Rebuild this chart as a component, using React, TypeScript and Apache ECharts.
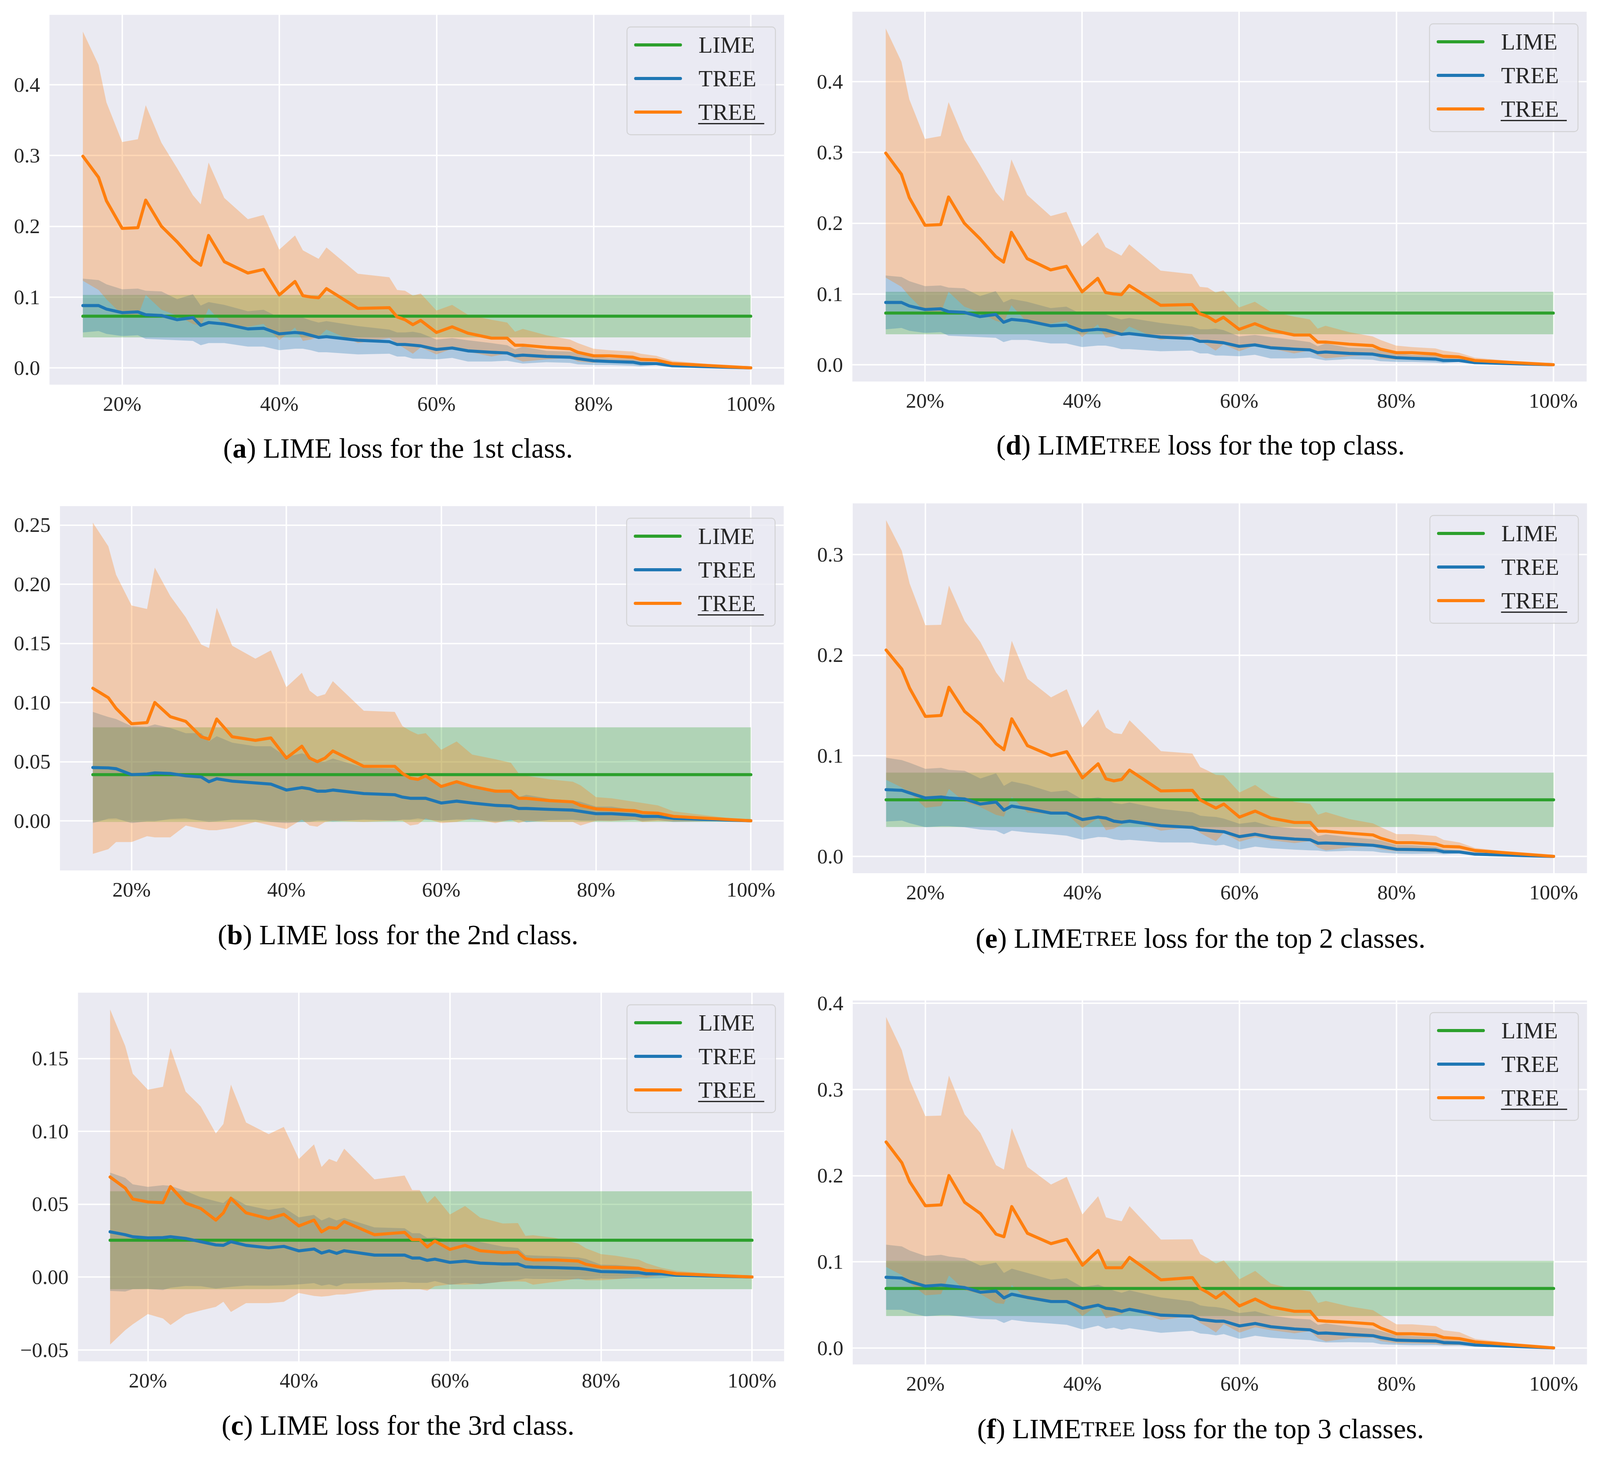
import React, { useEffect, useRef } from "react";
import * as echarts from "echarts";

const W = 4430;
const H = 3731;

// ---------- data ----------
const xPct = [15, 17, 18, 20, 22, 23, 25, 27, 29, 30, 31, 33, 36, 38, 40, 42, 43, 44, 45, 46, 50, 54, 55, 56, 57, 58, 60, 62, 64, 67, 69, 70, 71, 74, 77, 78, 80, 82, 85, 86, 88, 90, 100];
const xTicks = [20, 40, 60, 80, 100];

// (a) 1st class  /  (d) top class
const class1OrangeMean = [0.299, 0.269, 0.236, 0.197, 0.198, 0.237, 0.200, 0.178, 0.153, 0.145, 0.187, 0.150, 0.134, 0.139, 0.103, 0.122, 0.102, 0.100, 0.099, 0.112, 0.084, 0.085, 0.072, 0.068, 0.061, 0.067, 0.050, 0.058, 0.049, 0.042, 0.042, 0.032, 0.032, 0.029, 0.027, 0.022, 0.017, 0.017, 0.015, 0.012, 0.011, 0.006, 0.0];
const class1OrangeStd = [0.176, 0.159, 0.139, 0.122, 0.125, 0.134, 0.118, 0.104, 0.091, 0.086, 0.103, 0.090, 0.076, 0.077, 0.064, 0.065, 0.064, 0.060, 0.055, 0.058, 0.049, 0.043, 0.038, 0.041, 0.041, 0.038, 0.031, 0.031, 0.026, 0.026, 0.022, 0.019, 0.023, 0.017, 0.013, 0.013, 0.010, 0.008, 0.008, 0.008, 0.006, 0.004, 0.0];
const class1BlueMean = [0.088, 0.088, 0.083, 0.078, 0.079, 0.075, 0.074, 0.068, 0.071, 0.060, 0.064, 0.062, 0.055, 0.056, 0.048, 0.050, 0.049, 0.046, 0.043, 0.044, 0.039, 0.037, 0.033, 0.033, 0.032, 0.031, 0.026, 0.028, 0.024, 0.022, 0.021, 0.017, 0.018, 0.016, 0.015, 0.013, 0.010, 0.009, 0.008, 0.006, 0.006, 0.003, 0.0];
const class1BlueStd = [0.038, 0.036, 0.035, 0.033, 0.033, 0.034, 0.034, 0.029, 0.033, 0.028, 0.029, 0.027, 0.025, 0.026, 0.023, 0.023, 0.022, 0.021, 0.021, 0.022, 0.020, 0.017, 0.017, 0.017, 0.019, 0.018, 0.014, 0.014, 0.015, 0.013, 0.011, 0.009, 0.012, 0.008, 0.008, 0.008, 0.006, 0.005, 0.005, 0.004, 0.002, 0.001, 0.0];
const class1Lime = [0.073, 0.030]; // mean, std

// (b) 2nd class
const class2OrangeMean = [0.112, 0.104, 0.095, 0.082, 0.083, 0.100, 0.088, 0.084, 0.071, 0.069, 0.086, 0.071, 0.068, 0.070, 0.053, 0.063, 0.053, 0.050, 0.053, 0.059, 0.046, 0.046, 0.040, 0.036, 0.035, 0.038, 0.029, 0.033, 0.029, 0.025, 0.025, 0.019, 0.019, 0.017, 0.016, 0.013, 0.010, 0.0094, 0.0085, 0.007, 0.0064, 0.0037, 0.0];
const class2OrangeStd = [0.140, 0.128, 0.113, 0.100, 0.096, 0.114, 0.102, 0.088, 0.078, 0.077, 0.094, 0.077, 0.069, 0.074, 0.060, 0.062, 0.057, 0.055, 0.054, 0.059, 0.047, 0.046, 0.040, 0.040, 0.038, 0.036, 0.031, 0.034, 0.027, 0.027, 0.024, 0.021, 0.019, 0.018, 0.017, 0.017, 0.010, 0.0096, 0.0075, 0.008, 0.0066, 0.0043, 0.0];
const class2BlueMean = [0.045, 0.0447, 0.044, 0.039, 0.0395, 0.0405, 0.040, 0.038, 0.037, 0.033, 0.0355, 0.0335, 0.032, 0.031, 0.026, 0.028, 0.027, 0.025, 0.025, 0.026, 0.023, 0.022, 0.020, 0.019, 0.019, 0.019, 0.015, 0.0166, 0.015, 0.013, 0.0125, 0.0104, 0.0104, 0.0096, 0.009, 0.008, 0.006, 0.006, 0.0048, 0.0037, 0.0037, 0.002, 0.0];
const class2BlueStd = [0.047, 0.043, 0.042, 0.041, 0.040, 0.041, 0.0385, 0.036, 0.037, 0.034, 0.036, 0.0325, 0.031, 0.032, 0.028, 0.029, 0.028, 0.025, 0.025, 0.0266, 0.022, 0.022, 0.019, 0.018, 0.017, 0.018, 0.015, 0.0154, 0.014, 0.0136, 0.0125, 0.0096, 0.0116, 0.009, 0.008, 0.008, 0.006, 0.006, 0.0042, 0.004, 0.003, 0.003, 0.0];
const class2Lime = [0.039, 0.040];

// (c) 3rd class
const class3OrangeMean = [0.0686, 0.061, 0.0535, 0.0515, 0.051, 0.062, 0.0507, 0.047, 0.039, 0.044, 0.054, 0.044, 0.040, 0.043, 0.035, 0.039, 0.031, 0.034, 0.0334, 0.038, 0.029, 0.0306, 0.0256, 0.0256, 0.0206, 0.0246, 0.0189, 0.0217, 0.018, 0.0167, 0.017, 0.0125, 0.0117, 0.0117, 0.0109, 0.0087, 0.0067, 0.0065, 0.0059, 0.0045, 0.0038, 0.0022, 0.0];
const class3OrangeStd = [0.115, 0.0975, 0.086, 0.077, 0.0795, 0.095, 0.0765, 0.070, 0.0595, 0.061, 0.078, 0.062, 0.058, 0.060, 0.046, 0.052, 0.0445, 0.047, 0.0455, 0.050, 0.038, 0.039, 0.034, 0.034, 0.030, 0.031, 0.024, 0.027, 0.0227, 0.020, 0.020, 0.0157, 0.017, 0.015, 0.012, 0.011, 0.009, 0.008, 0.006, 0.005, 0.0025, 0.002, 0.0];
const class3BlueMean = [0.031, 0.029, 0.0276, 0.0268, 0.027, 0.0276, 0.0264, 0.0242, 0.022, 0.0217, 0.0242, 0.0217, 0.020, 0.021, 0.0179, 0.0192, 0.0164, 0.0179, 0.0162, 0.018, 0.015, 0.015, 0.013, 0.013, 0.0114, 0.0122, 0.010, 0.0109, 0.0095, 0.0089, 0.0089, 0.007, 0.0067, 0.0064, 0.0059, 0.0054, 0.0037, 0.0035, 0.003, 0.0022, 0.0022, 0.0012, 0.0];
const class3BlueStd = [0.0406, 0.039, 0.036, 0.035, 0.036, 0.035, 0.0326, 0.0305, 0.030, 0.029, 0.031, 0.0276, 0.026, 0.0267, 0.023, 0.0234, 0.0224, 0.023, 0.0226, 0.0225, 0.019, 0.0184, 0.017, 0.017, 0.0154, 0.015, 0.0154, 0.015, 0.0145, 0.012, 0.011, 0.008, 0.008, 0.0078, 0.0075, 0.007, 0.0047, 0.0047, 0.004, 0.0032, 0.003, 0.0013, 0.0];
const class3Lime = [0.0252, 0.0336];

// (d) top class (same curves as the 1st class)
const top1OrangeMean = class1OrangeMean;
const top1OrangeStd = class1OrangeStd;
const top1BlueMean = class1BlueMean;
const top1BlueStd = class1BlueStd;
const top1Lime = class1Lime;

// (e) top 2 classes
const top2OrangeMean = [0.205, 0.186, 0.167, 0.139, 0.140, 0.168, 0.144, 0.131, 0.112, 0.106, 0.1366, 0.110, 0.100, 0.104, 0.078, 0.092, 0.077, 0.075, 0.0765, 0.0857, 0.065, 0.0656, 0.056, 0.052, 0.048, 0.052, 0.039, 0.045, 0.038, 0.0337, 0.0337, 0.025, 0.025, 0.023, 0.0213, 0.018, 0.0136, 0.0136, 0.0123, 0.0099, 0.0094, 0.0058, 0.0];
const top2OrangeStd = [0.129, 0.1175, 0.104, 0.0907, 0.090, 0.101, 0.0898, 0.082, 0.0708, 0.0665, 0.0775, 0.0665, 0.058, 0.062, 0.050, 0.054, 0.051, 0.0475, 0.045, 0.0495, 0.0395, 0.0365, 0.0327, 0.033, 0.033, 0.0285, 0.0245, 0.026, 0.022, 0.0205, 0.0185, 0.0164, 0.019, 0.014, 0.0115, 0.011, 0.0085, 0.0085, 0.008, 0.0065, 0.0045, 0.0025, 0.0];
const top2BlueMean = [0.0663, 0.0656, 0.063, 0.058, 0.059, 0.058, 0.057, 0.052, 0.054, 0.046, 0.050, 0.0475, 0.043, 0.043, 0.0366, 0.039, 0.038, 0.035, 0.034, 0.035, 0.0305, 0.0288, 0.0264, 0.0257, 0.025, 0.0245, 0.0196, 0.022, 0.019, 0.0172, 0.0165, 0.013, 0.0133, 0.0123, 0.011, 0.0099, 0.007, 0.0068, 0.0063, 0.0046, 0.0044, 0.0022, 0.0];
const top2BlueStd = [0.0317, 0.030, 0.030, 0.029, 0.029, 0.028, 0.028, 0.0254, 0.0285, 0.024, 0.0245, 0.0238, 0.021, 0.0225, 0.020, 0.0197, 0.019, 0.018, 0.018, 0.0185, 0.0166, 0.015, 0.014, 0.014, 0.0142, 0.013, 0.0128, 0.0123, 0.011, 0.0105, 0.0105, 0.0072, 0.0085, 0.0068, 0.006, 0.006, 0.0043, 0.0043, 0.0034, 0.0025, 0.0015, 0.001, 0.0];
const top2Lime = [0.0562, 0.027];

// (f) top 3 classes
const top3OrangeMean = [0.239, 0.215, 0.193, 0.165, 0.166, 0.200, 0.169, 0.156, 0.132, 0.129, 0.164, 0.133, 0.121, 0.126, 0.096, 0.113, 0.093, 0.093, 0.093, 0.105, 0.079, 0.0816, 0.069, 0.064, 0.058, 0.0646, 0.0487, 0.0567, 0.0476, 0.0425, 0.0425, 0.0317, 0.031, 0.0297, 0.0278, 0.023, 0.0164, 0.0164, 0.015, 0.012, 0.0108, 0.007, 0.0];
const top3OrangeStd = [0.145, 0.1305, 0.1177, 0.104, 0.1036, 0.116, 0.102, 0.0935, 0.080, 0.078, 0.091, 0.077, 0.0686, 0.0725, 0.059, 0.063, 0.0585, 0.056, 0.054, 0.0595, 0.0467, 0.0445, 0.040, 0.040, 0.040, 0.037, 0.031, 0.0327, 0.027, 0.0255, 0.023, 0.0205, 0.0235, 0.0184, 0.016, 0.015, 0.011, 0.011, 0.0103, 0.0085, 0.0075, 0.0035, 0.0];
const top3BlueMean = [0.082, 0.081, 0.077, 0.0717, 0.073, 0.072, 0.070, 0.0646, 0.066, 0.058, 0.0623, 0.0586, 0.0538, 0.0538, 0.046, 0.0496, 0.046, 0.045, 0.0425, 0.0448, 0.038, 0.0368, 0.033, 0.032, 0.031, 0.031, 0.0255, 0.0283, 0.0246, 0.022, 0.021, 0.017, 0.0173, 0.0156, 0.0142, 0.012, 0.009, 0.0085, 0.008, 0.0062, 0.0057, 0.0034, 0.0];
const top3BlueStd = [0.0378, 0.0368, 0.036, 0.035, 0.035, 0.034, 0.034, 0.031, 0.033, 0.029, 0.0297, 0.0284, 0.0255, 0.027, 0.0245, 0.0238, 0.024, 0.0215, 0.0215, 0.022, 0.0205, 0.017, 0.0163, 0.016, 0.0164, 0.015, 0.015, 0.0142, 0.0128, 0.012, 0.012, 0.0097, 0.011, 0.009, 0.008, 0.0078, 0.0054, 0.0054, 0.0048, 0.0037, 0.003, 0.002, 0.0];
const top3Lime = [0.069, 0.032];

// tick labels
const yTicksA = [0, 0.1, 0.2, 0.3, 0.4];
const yTicksB = [0, 0.05, 0.1, 0.15, 0.2, 0.25];
const yTicksC = [-0.05, 0, 0.05, 0.1, 0.15];
const yTicksE = [0, 0.1, 0.2, 0.3];
const legendLabels = ["LIME", "TREE", "TREE"];

// ---------- styling / layout ----------
const GREEN = "#2ca02c";
const BLUE = "#1f77b4";
const ORANGE = "#ff7f0e";
const BG = "#EAEAF2";
const INK = "#262626";
const FONT = "'Liberation Serif', 'Times New Roman', serif";

type PanelData = {
  oMean: number[]; oStd: number[]; bMean: number[]; bStd: number[]; lime: number[];
  yTicks: number[]; digits: number; letter: string; captionTail: string; limeTree: boolean;
};

const panels: PanelData[] = [
  { oMean: class1OrangeMean, oStd: class1OrangeStd, bMean: class1BlueMean, bStd: class1BlueStd, lime: class1Lime, yTicks: yTicksA, digits: 1, letter: "a", captionTail: " loss for the 1st class.", limeTree: false },
  { oMean: class2OrangeMean, oStd: class2OrangeStd, bMean: class2BlueMean, bStd: class2BlueStd, lime: class2Lime, yTicks: yTicksB, digits: 2, letter: "b", captionTail: " loss for the 2nd class.", limeTree: false },
  { oMean: class3OrangeMean, oStd: class3OrangeStd, bMean: class3BlueMean, bStd: class3BlueStd, lime: class3Lime, yTicks: yTicksC, digits: 2, letter: "c", captionTail: " loss for the 3rd class.", limeTree: false },
  { oMean: top1OrangeMean, oStd: top1OrangeStd, bMean: top1BlueMean, bStd: top1BlueStd, lime: top1Lime, yTicks: yTicksA, digits: 1, letter: "d", captionTail: " loss for the top class.", limeTree: true },
  { oMean: top2OrangeMean, oStd: top2OrangeStd, bMean: top2BlueMean, bStd: top2BlueStd, lime: top2Lime, yTicks: yTicksE, digits: 1, letter: "e", captionTail: " loss for the top 2 classes.", limeTree: true },
  { oMean: top3OrangeMean, oStd: top3OrangeStd, bMean: top3BlueMean, bStd: top3BlueStd, lime: top3Lime, yTicks: yTicksA, digits: 1, letter: "f", captionTail: " loss for the top 3 classes.", limeTree: true },
];

// layout in reference pixels (4430 x 3731); scaled to the real container size
const layouts = [
  { left: 137, top: 38, width: 2034, height: 947, capX: 1102, capY: 1148 },
  { left: 166, top: 1296, width: 2004, height: 933, capX: 1102, capY: 2394 },
  { left: 216, top: 2542, width: 1955, height: 944, capX: 1102, capY: 3650 },
  { left: 2360, top: 30, width: 2033, height: 947, capX: 3324, capY: 1140 },
  { left: 2361, top: 1289, width: 2033, height: 947, capX: 3324, capY: 2403 },
  { left: 2361, top: 2562, width: 2033, height: 932, capX: 3324, capY: 3659 },
];

function fmtY(v: number, digits: number) {
  const s = Math.abs(v).toFixed(digits);
  return v < -1e-9 ? "\u2212" + s : s;
}

function bandSeries(k: number, xs: number[], lo: number[], hi: number[], color: string) {
  return {
    type: "custom",
    xAxisIndex: k,
    yAxisIndex: k,
    silent: true,
    z: 2,
    clip: true,
    data: xs.map((x, i) => [x, lo[i], hi[i]]),
    encode: { x: 0, y: [1, 2] },
    renderItem: (params: any, api: any) => {
      if (params.dataIndex !== 0) return null;
      const upper = xs.map((x, i) => api.coord([x, hi[i]]));
      const lower = xs.map((x, i) => api.coord([x, lo[i]])).reverse();
      return {
        type: "polygon",
        shape: { points: upper.concat(lower) },
        style: { fill: color, opacity: 0.3 },
      };
    },
  };
}

function buildOption(sx: number, sy: number) {
  const s = Math.min(sx, sy);
  const grid: any[] = [];
  const xAxis: any[] = [];
  const yAxis: any[] = [];
  const series: any[] = [];
  const graphic: any[] = [];

  const xMinData = Math.min(...xPct);
  const xMaxData = Math.max(...xPct);
  const xPad = (xMaxData - xMinData) * 0.05;
  const lineW = 8.5 * s;

  panels.forEach((p, k) => {
    const L = layouts[k];
    const limeMean = p.lime[0];
    const limeStd = p.lime[1];
    const oLo = p.oMean.map((m, i) => m - p.oStd[i]);
    const oHi = p.oMean.map((m, i) => m + p.oStd[i]);
    const bLo = p.bMean.map((m, i) => m - p.bStd[i]);
    const bHi = p.bMean.map((m, i) => m + p.bStd[i]);
    const yLo = Math.min(...oLo, ...bLo, limeMean - limeStd);
    const yHi = Math.max(...oHi, ...bHi, limeMean + limeStd);
    const yPad = (yHi - yLo) * 0.05;

    grid.push({
      left: L.left * sx, top: L.top * sy, width: L.width * sx, height: L.height * sy,
      show: true, backgroundColor: BG, borderWidth: 0, containLabel: false, outerBoundsMode: "none",
    });
    xAxis.push({
      type: "value", gridIndex: k, min: xMinData - xPad, max: xMaxData + xPad,
      axisLine: { show: false },
      axisTick: { show: false, customValues: xTicks },
      axisLabel: {
        customValues: xTicks, formatter: (v: number) => `${Math.round(v)}%`,
        fontSize: 58 * s, fontFamily: FONT, color: INK, margin: 22 * sy,
      },
      splitLine: { show: true, lineStyle: { color: "#ffffff", width: 4 * s } },
    });
    yAxis.push({
      type: "value", gridIndex: k, min: yLo - yPad, max: yHi + yPad,
      axisLine: { show: false },
      axisTick: { show: false, customValues: p.yTicks },
      axisLabel: {
        customValues: p.yTicks, formatter: (v: number) => fmtY(v, p.digits),
        fontSize: 58 * s, fontFamily: FONT, color: INK, margin: 26 * sx,
      },
      splitLine: { show: true, lineStyle: { color: "#ffffff", width: 4 * s } },
    });

    const limeX = [xMinData, xMaxData];
    const lineBase = { type: "line", xAxisIndex: k, yAxisIndex: k, symbol: "none", silent: true, z: 3, emphasis: { disabled: true } };
    series.push(
      bandSeries(k, limeX, limeX.map(() => limeMean - limeStd), limeX.map(() => limeMean + limeStd), GREEN),
      bandSeries(k, xPct, bLo, bHi, BLUE),
      bandSeries(k, xPct, oLo, oHi, ORANGE),
      { ...lineBase, name: "LIME", data: limeX.map((x) => [x, limeMean]), lineStyle: { color: GREEN, width: lineW, cap: "round", join: "round" } },
      { ...lineBase, name: "TREE", data: xPct.map((x, i) => [x, p.bMean[i]]), lineStyle: { color: BLUE, width: lineW, cap: "round", join: "round" } },
      { ...lineBase, name: "TREE (underlined)", data: xPct.map((x, i) => [x, p.oMean[i]]), lineStyle: { color: ORANGE, width: lineW, cap: "round", join: "round" } },
    );

    // legend (drawn as graphic so the third entry can be underlined)
    const boxW = 411, boxH = 276;
    const bx = L.left + L.width - 24 - boxW;
    const by = L.top + 31;
    graphic.push({
      type: "rect", z: 100, silent: true,
      shape: { x: bx * sx, y: by * sy, width: boxW * sx, height: boxH * sy, r: 10 * s },
      style: { fill: "rgba(234,234,242,0.8)", stroke: "rgba(204,204,204,0.8)", lineWidth: 2.5 * s },
    });
    [GREEN, BLUE, ORANGE].forEach((c, i) => {
      const cy = by + 46 + 86 * i;
      graphic.push({
        type: "line", z: 101, silent: true,
        shape: { x1: (bx + 24) * sx, y1: cy * sy, x2: (bx + 148) * sx, y2: cy * sy },
        style: { stroke: c, lineWidth: lineW, lineCap: "round" },
      });
      graphic.push({
        type: "text", z: 101, silent: true, x: (bx + 198) * sx, y: cy * sy,
        style: { text: legendLabels[i], fontSize: 64 * s, fontFamily: FONT, fill: INK, align: "left", verticalAlign: "middle" },
      });
    });
    graphic.push({
      type: "rect", z: 101, silent: true,
      shape: { x: (bx + 197) * sx, y: (by + 246) * sy, width: 183 * sx, height: 3.5 * s },
      style: { fill: INK },
    });

    // caption
    const mid = p.limeTree ? "LIME{sc|TREE}" : "LIME";
    graphic.push({
      type: "text", z: 101, silent: true, x: L.capX * sx, y: L.capY * sy,
      style: {
        text: `({b|${p.letter}}) ${mid}${p.captionTail}`,
        fontSize: 78 * s, fontFamily: FONT, fill: "#000000", align: "center", verticalAlign: "middle",
        rich: {
          b: { fontSize: 78 * s, fontFamily: FONT, fontWeight: "bold", fill: "#000000" },
          sc: { fontSize: 60 * s, fontFamily: FONT, fill: "#000000" },
        },
      },
    });
  });

  return {
    animation: false,
    backgroundColor: "#ffffff",
    textStyle: { fontFamily: FONT },
    grid, xAxis, yAxis, series, graphic,
  };
}

export default function App() {
  const ref = useRef<HTMLDivElement>(null);
  useEffect(() => {
    document.body.style.margin = "0";
    document.documentElement.style.overflow = "hidden";
    document.body.style.overflow = "hidden";
    const el = ref.current;
    if (!el) return;
    const w = el.clientWidth || window.innerWidth || W;
    const h = el.clientHeight || window.innerHeight || H;
    const chart = echarts.init(el, undefined, { renderer: "svg", width: w, height: h });
    chart.setOption(buildOption(w / W, h / H) as any);
    return () => chart.dispose();
  }, []);
  return <div ref={ref} style={{ width: "100vw", height: "100vh", background: "#fff", overflow: "hidden" }} />;
}
